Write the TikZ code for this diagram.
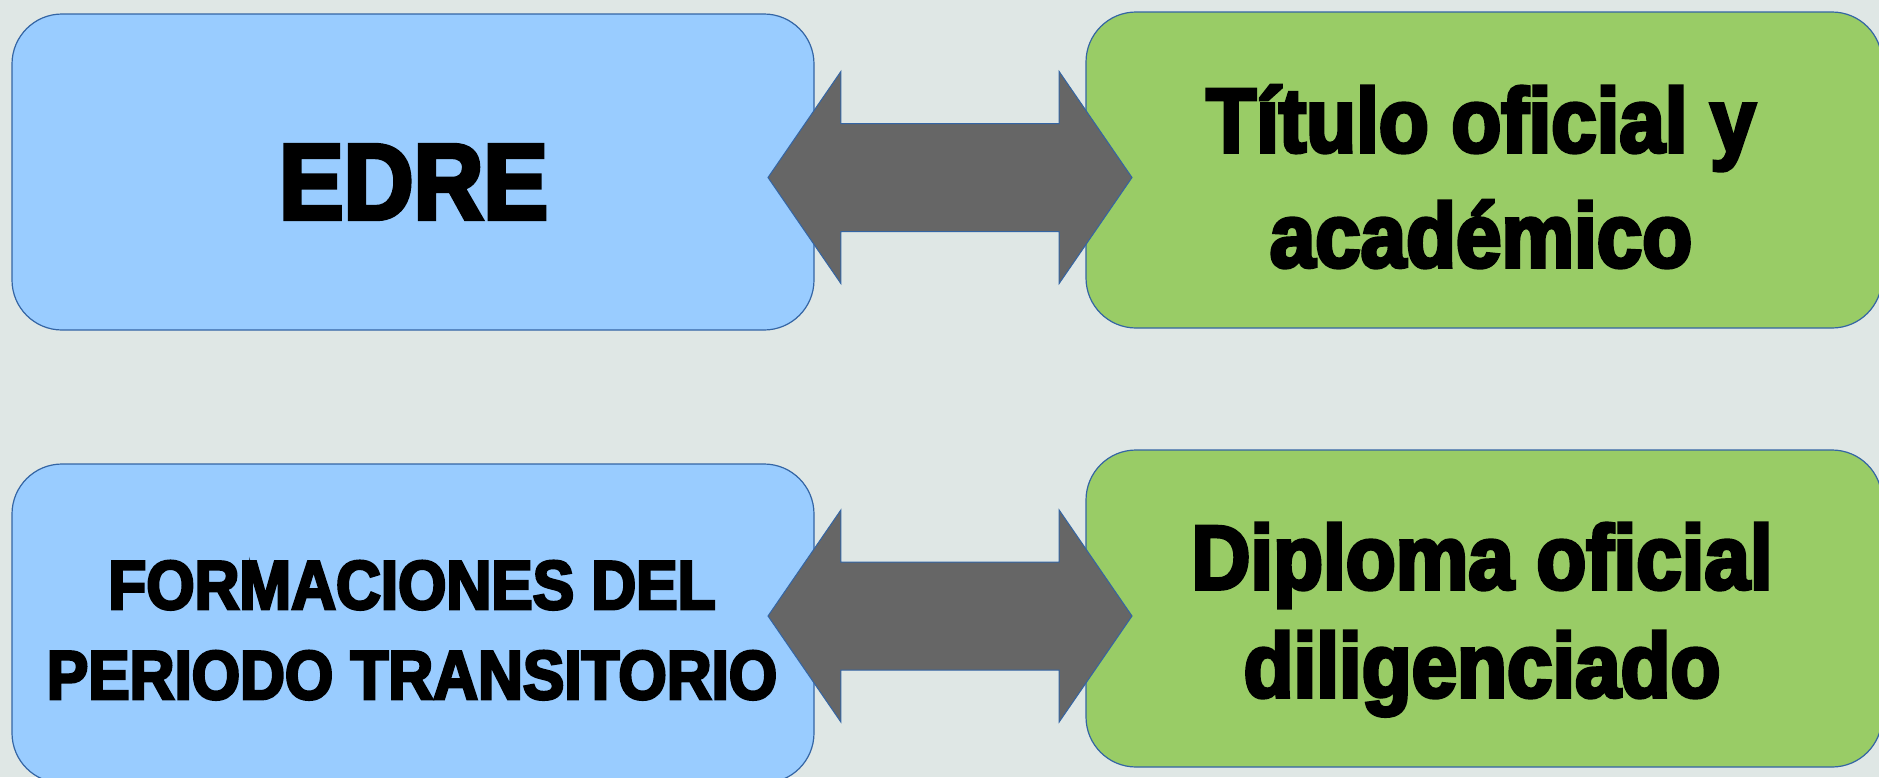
\documentclass[tikz,border=0pt]{standalone}
\usepackage{fontspec}
\setmainfont{Liberation Sans}[FakeStretch=0.9,BoldFeatures={FakeBold=4}]
\usetikzlibrary{shapes.arrows}
\definecolor{bgcol}{HTML}{DFE7E5}
\definecolor{boxblue}{HTML}{99CCFF}
\definecolor{boxgreen}{HTML}{99CC66}
\definecolor{arrowgray}{HTML}{666666}
\definecolor{edgeblue}{HTML}{3465A4}
\begin{document}
\begin{tikzpicture}[
		x=0.5pt,y=-0.5pt,
		box/.style={draw=edgeblue,line width=0.6pt,rounded corners=25pt,inner sep=0pt,minimum width=401pt,minimum height=158pt},
		bluebox/.style={box,fill=boxblue},
		greenbox/.style={box,fill=boxgreen,minimum width=398pt},
		txt/.style={anchor=base,align=center},
		huge/.style={txt,font=\bfseries\fontsize{53.8pt}{60pt}\selectfont},
		large/.style={txt,font=\bfseries\fontsize{45.4pt}{57.5pt}\selectfont},
		small/.style={txt,font=\bfseries\fontsize{34.5pt}{45pt}\selectfont},
		arr/.style={double arrow,draw=edgeblue,fill=arrowgray,line width=0.5pt,
			minimum height=182pt,minimum width=105.5pt,inner xsep=0pt,inner ysep=26.75pt,
			double arrow head extend=26pt,double arrow tip angle=111}
		]
		\fill[bgcol] (0,0) rectangle (1879,777);
		\useasboundingbox (0,0) rectangle (1879,777);
		\node[bluebox] (B1) at (413,172) {};
		\node[greenbox] (G1) at (1484,170) {};
		\node[bluebox,minimum height=159.5pt] (B2) at (413,623.5) {};
		\node[greenbox,minimum height=158.5pt] (G2) at (1484,608.5) {};
		% base anchor sits on the last line
		\node[huge] (T1) at (413.5,219) {EDRE};
		\node[large] (T2) at (1481,267) {Título oficial y\\académico};
		\node[small] (T3) at (412,699) {FORMACIONES DEL\\PERIODO TRANSITORIO};
		\node[large,font=\bfseries\fontsize{45.4pt}{54pt}\selectfont] (T4) at (1482,697) {Diploma oficial\\diligenciado};
		\node[arr] (A1) at (950,177.5) {};
		\node[arr] (A2) at (950,616) {};
	\end{tikzpicture}
\end{document}
